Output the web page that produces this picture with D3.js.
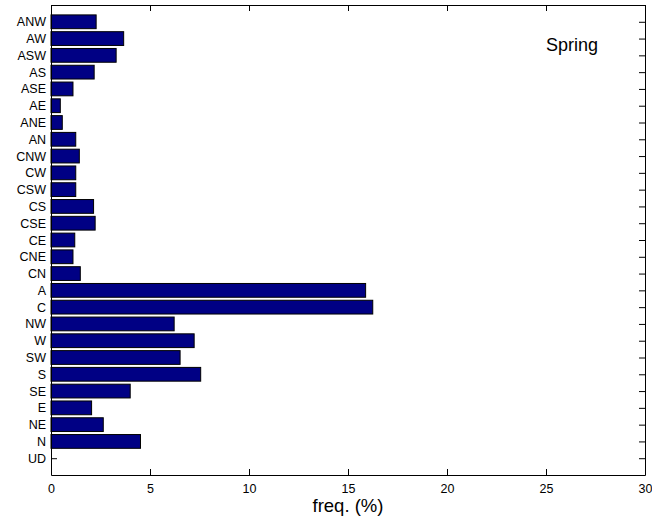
<!DOCTYPE html>
<html>
<head>
<meta charset="utf-8">
<script src="https://cdn.jsdelivr.net/npm/d3@7/dist/d3.min.js"></script>
<style>
  html, body { margin: 0; padding: 0; background: #fff; }
  svg { display: block; font-family: "Liberation Sans", Arial, Helvetica, sans-serif; }
</style>
</head>
<body>
<svg id="chart" width="652" height="518"></svg>
<script>
// Circulation-type categories, listed top to bottom
const categories = ["ANW", "AW", "ASW", "AS", "ASE", "AE", "ANE", "AN",
  "CNW", "CW", "CSW", "CS", "CSE", "CE", "CNE", "CN",
  "A", "C", "NW", "W", "SW", "S", "SE", "E", "NE", "N", "UD"];

// Spring frequency of each type, in percent
const freqValues = [2.28, 3.67, 3.29, 2.18, 1.11, 0.47, 0.57, 1.25,
  1.43, 1.25, 1.25, 2.15, 2.23, 1.20, 1.11, 1.48,
  15.89, 16.25, 6.22, 7.23, 6.52, 7.56, 4.00, 2.05, 2.64, 4.52, 0];

const xTicks = [0, 5, 10, 15, 20, 25, 30];

const seasonLabel = "Spring";
const xLabel = "freq. (%)";

const margin = { left: 51, right: 7, top: 5, bottom: 43 };
const width = 652, height = 518;
const svg = d3.select("#chart");

const x = d3.scaleLinear().domain([0, 30]).range([margin.left, width - margin.right]);
// categories sit at positions 1..27, with one empty slot of padding at each end
const y = d3.scaleLinear().domain([0, categories.length + 1]).range([margin.top, height - margin.bottom]);
const slot = y(1) - y(0);
const barH = slot * 0.82;

const data = categories.map((c, i) => ({ cat: c, pos: i + 1, value: freqValues[i] }));

// Bars
svg.append("g").selectAll("rect")
  .data(data.filter(d => d.value > 0))
  .join("rect")
  .attr("x", x(0))
  .attr("y", d => y(d.pos) - barH / 2)
  .attr("width", d => x(d.value) - x(0))
  .attr("height", barH)
  .attr("fill", "#000084")
  .attr("stroke", "#000")
  .attr("stroke-width", 1);

const tickLen = 6;
const catPositions = data.map(d => d.pos);

// Bottom axis (ticks pointing inward)
const axisB = svg.append("g")
  .attr("transform", `translate(0,${y(categories.length + 1)})`)
  .call(d3.axisBottom(x).tickValues(xTicks).tickSizeInner(-tickLen).tickSizeOuter(0).tickPadding(9).tickFormat(d3.format("d")));
// Top axis
const axisT = svg.append("g")
  .attr("transform", `translate(0,${y(0)})`)
  .call(d3.axisTop(x).tickValues(xTicks).tickSizeInner(-tickLen).tickSizeOuter(0).tickFormat(""));
// Left axis with category names
const axisL = svg.append("g")
  .attr("transform", `translate(${x(0)},0)`)
  .call(d3.axisLeft(y).tickValues(catPositions).tickSizeInner(-tickLen).tickSizeOuter(0).tickPadding(5)
    .tickFormat(p => categories[p - 1]));
// Right axis
const axisR = svg.append("g")
  .attr("transform", `translate(${x(30)},0)`)
  .call(d3.axisRight(y).tickValues(catPositions).tickSizeInner(-tickLen).tickSizeOuter(0).tickFormat(""));

// the left ticks would show through the bars; hide those that a bar covers
axisL.selectAll(".tick line").attr("display", p => freqValues[p - 1] > 0 ? "none" : null);

[axisB, axisT, axisL, axisR].forEach(g => {
  g.selectAll(".domain").attr("stroke", "#000").attr("stroke-width", 1);
  g.selectAll(".tick line").attr("stroke", "#000");
  g.selectAll("text").attr("fill", "#000").attr("font-size", 12.5)
    .attr("font-family", "'Liberation Sans', Arial, sans-serif");
});

// Axis label
svg.append("text")
  .attr("x", (x(0) + x(30)) / 2)
  .attr("y", 512)
  .attr("text-anchor", "middle")
  .attr("font-size", 18.5)
  .attr("fill", "#000")
  .text(xLabel);

// Season annotation
svg.append("text")
  .attr("x", 546)
  .attr("y", 51)
  .attr("font-size", 18)
  .attr("fill", "#000")
  .text(seasonLabel);
</script>
</body>
</html>
